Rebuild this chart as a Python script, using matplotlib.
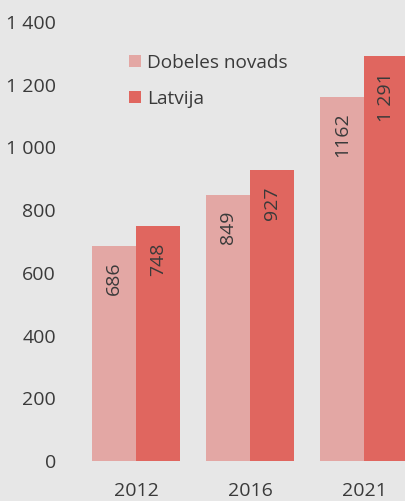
import matplotlib.pyplot as plt
import numpy as np

years = ["2012", "2016", "2021"]
dobeles = [686, 849, 1162]
latvija = [748, 927, 1291]
dobeles_labels = ["686", "849", "1162"]
latvija_labels = ["748", "927", "1 291"]
yticks = [0, 200, 400, 600, 800, 1000, 1200, 1400]
ytick_labels = ["0", "200", "400", "600", "800", "1 000", "1 200", "1 400"]

bg = "#e7e7e7"
c_light = "#e3a7a4"
c_dark = "#e0665f"
txt = "#3a3a3a"

plt.rcParams["font.family"] = ["Open Sans", "DejaVu Sans"]

fig = plt.figure(figsize=(4.06, 5.01), dpi=100, facecolor=bg)
# axes runs past the right edge on purpose, the last bar is cut off
ax = fig.add_axes([79 / 406, 40 / 501, 342 / 406, 439 / 501], facecolor=bg)

x = np.arange(len(years))
w = 0.386
b1 = ax.bar(x - w / 2, dobeles, w, color=c_light, label="Dobeles novads")
b2 = ax.bar(x + w / 2, latvija, w, color=c_dark, label="Latvija")

for bars, labels in [(b1, dobeles_labels), (b2, latvija_labels)]:
    for rect, lab in zip(bars, labels):
        ax.annotate(lab, (rect.get_x() + rect.get_width() / 2, rect.get_height()),
                    xytext=(0, -11.5), textcoords="offset points",
                    rotation=90, ha="center", va="top",
                    fontsize=14, color=txt)

ax.set_xlim(-0.5, 2.5)
ax.set_ylim(0, 1400)
ax.set_xticks(x)
ax.set_xticklabels(years)
ax.set_yticks(yticks)
ax.set_yticklabels(ytick_labels)
ax.tick_params(length=0, labelsize=14, labelcolor=txt)
ax.tick_params(axis="y", pad=16.5)
ax.tick_params(axis="x", pad=15)
for s in ax.spines.values():
    s.set_visible(False)

leg = ax.legend(loc="upper left", bbox_to_anchor=(0.125, 0.945), frameon=False,
                fontsize=13.7, handlelength=0.6, handleheight=0.6,
                handletextpad=0.35, labelspacing=0.95, borderaxespad=0)
for t in leg.get_texts():
    t.set_color(txt)

fig.savefig("out.png", dpi=100, facecolor=bg)
